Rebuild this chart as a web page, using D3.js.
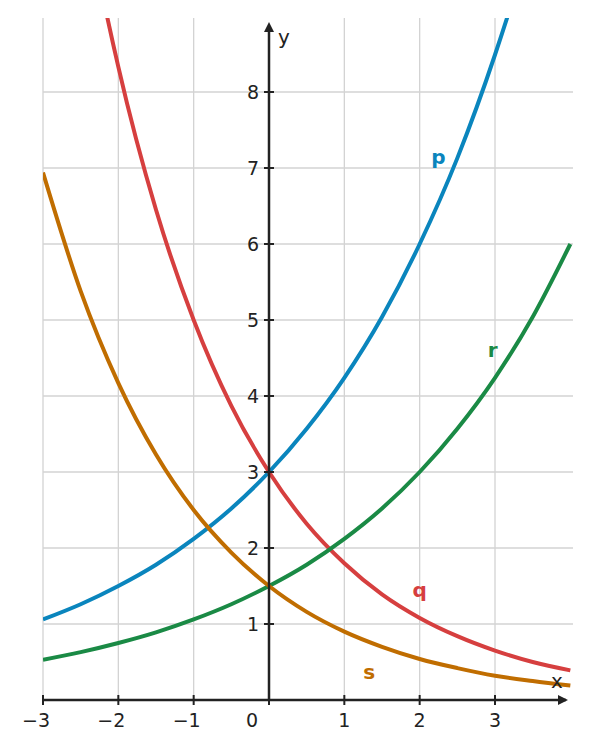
<!DOCTYPE html>
<html><head><meta charset="utf-8">
<script src="https://cdn.jsdelivr.net/npm/d3@7"></script>
<style>body{margin:0;background:#fff}text{font-family:"DejaVu Sans",sans-serif}</style>
</head><body><svg id="chart" width="590" height="749"></svg>
<script>
// sample points (x step 0.5)
const xs = [-3, -2.5, -2, -1.5, -1, -0.5, 0, 0.5, 1, 1.5, 2, 2.5, 3, 3.5, 4];
const pVals = [1.06, 1.26, 1.5, 1.78, 2.12, 2.52, 3, 3.57, 4.24, 5.04, 6, 7.13, 8.49, 10.09, 12];
const qVals = [13.9, 10.76, 8.33, 6.45, 5, 3.87, 3, 2.32, 1.8, 1.39, 1.08, 0.84, 0.65, 0.5, 0.39];
const rVals = [0.53, 0.63, 0.75, 0.89, 1.06, 1.26, 1.5, 1.78, 2.12, 2.52, 3, 3.57, 4.24, 5.04, 6];
const sVals = [6.94, 5.38, 4.17, 3.23, 2.5, 1.94, 1.5, 1.16, 0.9, 0.7, 0.54, 0.42, 0.32, 0.25, 0.19];
const xTicks = [-3, -2, -1, 0, 1, 2, 3];
const yTicks = [1, 2, 3, 4, 5, 6, 7, 8];
const series = [
  { name: "p", vals: pVals, color: "#0a85bd", lx: 2.25, ly: 7.15 },
  { name: "q", vals: qVals, color: "#d63f3f", lx: 2.0, ly: 1.45 },
  { name: "r", vals: rVals, color: "#1a8a45", lx: 2.97, ly: 4.6 },
  { name: "s", vals: sVals, color: "#c06d00", lx: 1.33, ly: 0.37 },
];

const svg = d3.select("#chart");
const x = d3.scaleLinear().domain([-3, 0]).range([43, 269]);
const y = d3.scaleLinear().domain([0, 3]).range([700, 472]);
const L = 43, R = 573, T = 18, B = 700;

// grid
svg.append("g").selectAll("line").data(xTicks.filter(d => d !== 0)).join("line")
  .attr("x1", d => x(d)).attr("x2", d => x(d)).attr("y1", T).attr("y2", B)
  .attr("stroke", "#d3d3d3").attr("stroke-width", 1.3);
svg.append("g").selectAll("line").data(yTicks).join("line")
  .attr("x1", L).attr("x2", R).attr("y1", d => y(d)).attr("y2", d => y(d))
  .attr("stroke", "#d3d3d3").attr("stroke-width", 1.3);

svg.append("clipPath").attr("id", "clip").append("rect")
  .attr("x", L).attr("y", T).attr("width", R - L).attr("height", B - T);

const line = d3.line().x(d => x(d[0])).y(d => y(d[1])).curve(d3.curveMonotoneX);
const g = svg.append("g").attr("clip-path", "url(#clip)");
series.forEach(s => {
  g.append("path").attr("d", line(xs.map((v, i) => [v, s.vals[i]])))
    .attr("fill", "none").attr("stroke", s.color).attr("stroke-width", 4);
});

// axes
const ax = "#222";
svg.append("line").attr("x1", L).attr("x2", 566).attr("y1", B).attr("y2", B).attr("stroke", ax).attr("stroke-width", 2.5);
svg.append("path").attr("d", `M568,${B} l-10,-5 l0,10 z`).attr("fill", ax);
svg.append("line").attr("x1", x(0)).attr("x2", x(0)).attr("y1", 700).attr("y2", 26).attr("stroke", ax).attr("stroke-width", 2.5);
svg.append("path").attr("d", `M${x(0)},22 l-5,10 l10,0 z`).attr("fill", ax);

svg.append("g").selectAll("line").data(xTicks).join("line")
  .attr("x1", d => x(d)).attr("x2", d => x(d)).attr("y1", B - 5).attr("y2", B + 5).attr("stroke", ax).attr("stroke-width", 2);
svg.append("g").selectAll("line").data(yTicks).join("line")
  .attr("x1", x(0) - 5).attr("x2", x(0) + 5).attr("y1", d => y(d)).attr("y2", d => y(d)).attr("stroke", ax).attr("stroke-width", 2);

svg.append("g").selectAll("text").data(xTicks).join("text")
  .attr("x", d => d === 0 ? x(0) - 17 : x(d)).attr("y", 727)
  .attr("text-anchor", d => d === 0 ? "middle" : (d < 0 ? "end" : "middle"))
  .attr("dx", d => d < 0 ? 7 : 0)
  .attr("font-size", 19).attr("fill", ax)
  .text(d => d < 0 ? "\u2212" + Math.abs(d) : d);
svg.append("g").selectAll("text").data(yTicks).join("text")
  .attr("x", x(0) - 10).attr("y", d => y(d) + 7).attr("text-anchor", "end")
  .attr("font-size", 19).attr("fill", ax).text(d => d);

svg.append("text").attr("x", 557).attr("y", 688).attr("text-anchor", "middle").attr("font-size", 20).attr("fill", ax).text("x");
svg.append("text").attr("x", 284).attr("y", 44).attr("text-anchor", "middle").attr("font-size", 20).attr("fill", ax).text("y");

series.forEach(s => {
  svg.append("text").attr("x", x(s.lx)).attr("y", y(s.ly) + 7).attr("text-anchor", "middle")
    .attr("font-size", 20).attr("font-weight", "bold").attr("fill", s.color).text(s.name);
});
</script></body></html>
